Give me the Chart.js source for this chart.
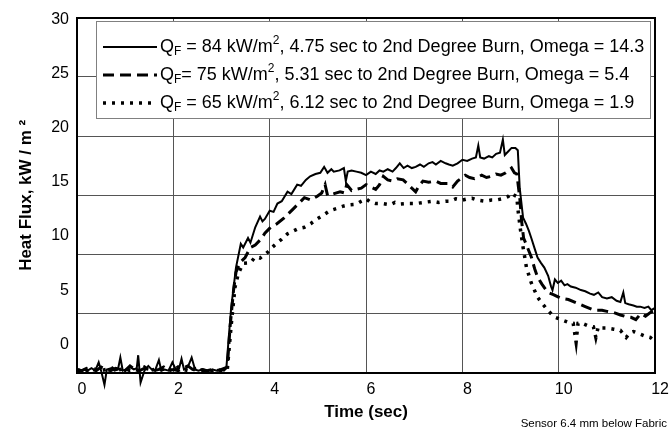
<!DOCTYPE html>
<html>
<head>
<meta charset="utf-8">
<script src="https://cdn.jsdelivr.net/npm/chart.js@4.4.1/dist/chart.umd.min.js"></script>
<style>
  body { margin: 0; background: #fff; }
  #wrap { width: 671px; height: 438px; }
</style>
</head>
<body>
<div id="wrap"><canvas id="heatFlux" width="671" height="438"></canvas></div>
<script>
var xTicks = [0, 2, 4, 6, 8, 10, 12];
var yTicks = [0, 5, 10, 15, 20, 25, 30];

// Q_F = 84 kW/m2 (solid)
var time84 = [0,0.08,0.15,0.22,0.3,0.38,0.45,0.5,0.57,0.62,0.7,0.78,0.85,0.9,0.95,1.02,1.1,1.18,1.24,1.27,
  1.32,1.4,1.48,1.55,1.62,1.7,1.75,1.82,1.9,1.98,2.05,2.12,2.17,2.22,2.3,2.38,2.45,2.52,2.6,2.68,
  2.75,2.82,2.9,2.97,3.05,3.1,
  3.15,3.2,3.3,3.4,3.45,3.55,3.6,3.7,3.8,3.85,3.9,4.0,4.08,4.16,4.25,4.37,4.45,4.57,4.65,4.75,
  4.84,4.95,5.05,5.13,5.2,5.28,5.33,5.45,5.54,5.58,5.62,5.7,5.8,5.9,6.0,6.1,6.2,6.28,6.36,6.45,
  6.55,6.62,6.7,6.78,6.86,6.95,7.03,7.12,7.2,7.3,7.38,7.45,7.55,7.65,7.72,7.8,7.9,8.0,8.1,8.2,
  8.28,8.33,8.37,8.45,8.55,8.62,8.7,8.78,8.84,8.88,8.95,9.02,9.1,9.15,9.19,9.26,9.32,9.38,9.43,9.5,
  9.56,9.63,9.7,9.78,9.84,9.87,9.92,9.98,10.05,10.12,10.18,10.25,10.35,10.46,10.55,10.65,10.73,10.82,10.9,11.0,
  11.1,11.2,11.28,11.34,11.38,11.45,11.55,11.62,11.69,11.78,11.86,11.92,12.0];
var flux84 = [0.2,0.1,0.3,0.2,0.4,0.2,0.9,0.2,-1.0,0.3,0.4,0.2,0.3,1.3,0.2,0.3,0.5,0.3,0.4,1.5,
  -0.8,0.2,0.6,0.3,0.2,1.1,0.2,0.3,0.2,0.9,0.3,0.4,1.2,0.3,0.5,1.3,0.3,0.2,0.3,0.1,
  0.2,0.3,0.2,0.3,0.2,0.4,
  3,5.5,8.9,10.9,10.6,11.4,11.0,12.3,13.2,12.8,13.0,13.7,13.6,14.3,14.5,15.3,15.1,15.9,15.8,16.3,
  16.6,16.8,16.9,17.4,16.9,17.2,17.0,17.1,17.3,16.2,17.0,17.1,17.0,16.9,16.7,17.0,16.8,17.1,17.0,17.2,
  17.0,17.3,17.7,17.3,17.5,17.3,17.4,17.6,17.4,17.7,17.8,17.6,17.9,17.7,17.6,17.5,17.7,18.0,17.9,18.1,
  18.2,19.2,18.2,18.1,18.3,18.2,18.5,18.6,19.7,18.4,18.7,19.0,19.0,18.8,15.6,13.1,12.6,12.0,11.4,10.5,
  9.75,9.3,8.9,8.2,7.3,7.0,7.9,7.6,7.8,7.4,7.5,7.3,7.2,7.0,6.9,6.7,6.6,6.8,6.4,6.3,
  6.4,6.1,6.0,6.8,5.9,5.8,5.7,5.6,5.6,5.5,5.6,5.3,5.5];

// Q_F = 75 kW/m2 (dashed)
var time75 = [0,0.1,0.2,0.3,0.4,0.5,0.6,0.7,0.8,0.9,1.0,1.1,1.2,1.3,1.4,1.5,1.6,1.7,1.8,1.9,
  2.0,2.1,2.2,2.3,2.4,2.5,2.6,2.7,2.8,2.9,3.0,3.12,
  3.18,3.25,3.3,3.38,3.49,3.6,3.7,3.82,3.9,4.02,4.15,4.3,4.4,4.5,4.6,4.72,4.85,4.98,5.08,5.15,
  5.2,5.3,5.46,5.55,5.6,5.7,5.8,5.9,6.0,6.1,6.2,6.28,6.36,6.45,6.56,6.65,6.77,6.85,6.95,7.03,
  7.1,7.18,7.3,7.45,7.55,7.7,7.8,7.9,8.06,8.15,8.25,8.4,8.5,8.6,8.7,8.8,8.9,9.02,9.08,9.13,
  9.19,9.23,9.27,9.35,9.43,9.5,9.56,9.65,9.77,9.9,10.05,10.2,10.38,10.55,10.73,10.9,11.0,11.14,11.28,11.4,
  11.5,11.6,11.7,11.8,11.9,11.96,12.0];
var flux75 = [0.3,0.2,0.4,0.3,0.2,0.5,0.3,0.2,0.4,0.3,0.2,0.6,0.3,0.2,0.4,0.3,0.2,0.3,0.5,0.2,
  0.3,0.2,0.4,0.6,0.3,0.2,0.3,0.2,0.3,0.2,0.3,0.5,
  4,7,8.5,9.3,9.75,10.6,10.8,11.3,11.8,12.3,12.6,13.1,13.5,13.9,14.3,14.8,14.6,14.9,15.2,15.9,
  15.0,15.1,15.3,15.2,15.9,15.4,15.5,15.6,15.9,15.7,15.5,15.9,16.6,16.3,16.2,16.4,16.3,16.0,15.6,15.3,
  15.8,16.2,16.1,16.2,16.0,16.0,15.7,16.2,16.7,16.5,16.4,16.7,16.5,16.6,16.8,16.7,16.9,17.3,16.9,16.8,
  14.8,12.8,11.4,10.6,9.8,8.8,8.1,7.5,6.8,6.6,6.3,6.2,5.9,5.6,5.3,5.3,5.2,5.1,4.9,4.75,
  4.7,4.5,5.0,4.8,5.1,5.2,5.0];

// Q_F = 65 kW/m2 (dotted)
var time65 = [0,0.1,0.2,0.3,0.4,0.5,0.6,0.7,0.8,0.9,1.0,1.1,1.2,1.3,1.4,1.5,1.6,1.7,1.8,1.9,
  2.0,2.1,2.2,2.3,2.4,2.5,2.6,2.7,2.8,2.9,3.0,3.12,
  3.2,3.28,3.35,3.45,3.6,3.7,3.8,3.96,4.05,4.16,4.25,4.37,4.5,4.6,4.72,4.85,4.98,5.1,5.25,5.4,
  5.54,5.65,5.8,5.9,6.0,6.1,6.2,6.36,6.5,6.6,6.7,6.85,7.03,7.2,7.38,7.5,7.65,7.75,7.86,8.0,
  8.1,8.2,8.3,8.47,8.6,8.7,8.82,8.95,9.02,9.08,9.13,9.15,9.2,9.26,9.33,9.43,9.56,9.67,9.77,9.9,
  10.05,10.18,10.3,10.36,10.4,10.46,10.6,10.72,10.77,10.82,10.87,11.0,11.14,11.28,11.4,11.48,11.55,11.68,11.8,11.9,
  11.96,12.0];
var flux65 = [0.2,0.3,0.2,0.4,0.3,0.2,0.3,0.5,0.2,0.3,0.4,0.2,0.3,0.2,0.5,0.2,0.3,0.4,0.2,0.3,
  0.2,0.5,0.3,0.2,0.3,0.4,0.2,0.3,0.2,0.3,0.2,0.3,
  4,7.25,8.4,9.25,9.3,9.8,9.7,10.2,10.6,11.0,11.3,11.75,12.0,12.2,12.3,12.6,13.0,13.3,13.7,13.9,
  14.1,14.2,14.25,14.5,14.7,14.4,14.3,14.3,14.2,14.4,14.25,14.3,14.3,14.4,14.5,14.4,14.5,14.5,14.7,14.6,
  14.7,14.75,14.6,14.5,14.6,14.6,14.7,14.9,15.2,15.0,14.9,13.9,12.25,10.6,8.9,7.6,6.4,5.8,5.3,4.75,
  4.5,4.3,4.2,2.6,4.2,4.25,4.0,3.9,3.0,3.9,3.8,3.8,3.7,3.6,3.0,3.4,3.5,3.3,3.1,3.0,
  2.8,2.9];

// legend text: _X = subscript, ^X = superscript
var seriesLabels = [
  'Q_F = 84 kW/m^2, 4.75 sec to 2nd Degree Burn, Omega = 14.3',
  'Q_F= 75 kW/m^2, 5.31 sec to 2nd Degree Burn, Omega = 5.4',
  'Q_F = 65 kW/m^2, 6.12 sec to 2nd Degree Burn, Omega = 1.9'
];

var fontFamily = "'Liberation Sans', Arial, sans-serif";

function zip(t, v) {
  return t.map(function (x, i) { return { x: x, y: v[i] }; });
}

function plainLabel(s) {
  return s.replace('_F', 'F').replace('^2', '\u00b2');
}

// draws text with _X subscripts and ^X superscripts
function drawRich(ctx, text, x, y) {
  var parts = text.split(/([_^].)/);
  parts.forEach(function (p) {
    if (!p) return;
    var dy = 0, size = 18;
    if (p[0] === '_') { p = p.slice(1); dy = 5; size = 12; }
    else if (p[0] === '^') { p = p.slice(1); dy = -6; size = 12; }
    ctx.font = size + 'px ' + fontFamily;
    ctx.fillText(p, x, y + dy);
    x += ctx.measureText(p).width;
  });
}

var legendBox = {
  id: 'legendBox',
  afterDatasetsDraw: function (chart) {
    var ctx = chart.ctx;
    var left = 96, top = 21, right = 650, bottom = 118;
    ctx.save();
    ctx.fillStyle = '#fff';
    ctx.fillRect(left, top, right - left, bottom - top);
    ctx.strokeStyle = '#808080';
    ctx.lineWidth = 1;
    ctx.strokeRect(left + 0.5, top + 0.5, right - left, bottom - top);
    chart.data.datasets.forEach(function (ds, i) {
      var y = top + 26 + i * 28;
      ctx.beginPath();
      ctx.setLineDash(ds.borderDash || []);
      ctx.lineWidth = ds.borderWidth;
      ctx.strokeStyle = ds.borderColor;
      ctx.moveTo(left + 7, y);
      ctx.lineTo(left + 61, y);
      ctx.stroke();
      ctx.setLineDash([]);
      ctx.fillStyle = '#000';
      ctx.textBaseline = 'middle';
      drawRich(ctx, seriesLabels[i], left + 64, y);
    });
    ctx.restore();
  }
};

var sensorNote = {
  id: 'sensorNote',
  afterDraw: function (chart) {
    var ctx = chart.ctx;
    ctx.save();
    ctx.fillStyle = '#000';
    ctx.font = '11.5px ' + fontFamily;
    ctx.textBaseline = 'middle';
    ctx.textAlign = 'right';
    ctx.fillText('Sensor 6.4 mm below Fabric', 667, 424);
    ctx.restore();
  }
};

var tickFont = { family: fontFamily, size: 16 };
var frame = { color: '#000', width: 2 };

new Chart(document.getElementById('heatFlux'), {
  type: 'line',
  data: {
    datasets: [
      {
        label: plainLabel(seriesLabels[0]),
        data: zip(time84, flux84),
        borderColor: '#000',
        borderWidth: 2,
        clip: false,
        xAxisID: 'x', yAxisID: 'y'
      },
      {
        label: plainLabel(seriesLabels[1]),
        data: zip(time75, flux75),
        borderColor: '#000',
        borderWidth: 3,
        borderDash: [11, 6],
        xAxisID: 'x', yAxisID: 'y'
      },
      {
        label: plainLabel(seriesLabels[2]),
        data: zip(time65, flux65),
        borderColor: '#000',
        borderWidth: 3.5,
        borderDash: [3, 6],
        xAxisID: 'x', yAxisID: 'y'
      }
    ]
  },
  options: {
    responsive: false,
    animation: false,
    layout: { padding: 0 },
    elements: { point: { radius: 0 }, line: { tension: 0 } },
    plugins: {
      legend: { display: false },
      tooltip: { enabled: false }
    },
    scales: {
      x: {
        type: 'linear', position: 'bottom', min: 0, max: 12,
        afterFit: function (s) { s.height = 65; },
        afterBuildTicks: function (s) { s.ticks = xTicks.map(function (v) { return { value: v }; }); },
        grid: { color: '#555', lineWidth: 1, drawTicks: false },
        border: frame,
        ticks: { color: '#000', font: tickFont, padding: 7, labelOffset: 5, maxRotation: 0, autoSkip: false },
        title: {
          display: true, text: 'Time (sec)', color: '#000',
          font: { family: fontFamily, size: 17, weight: 'bold' },
          padding: { top: 0, bottom: 15 }
        }
      },
      x2: {
        type: 'linear', position: 'top', min: 0, max: 12,
        afterFit: function (s) { s.height = 14; },
        grid: { display: false, drawTicks: false },
        ticks: { display: false },
        border: frame
      },
      y: {
        position: 'right', min: 0, max: 30,
        afterFit: function (s) { s.width = 9; },
        afterBuildTicks: function (s) { s.ticks = yTicks.map(function (v) { return { value: v }; }); },
        grid: { color: '#555', lineWidth: 1, drawTicks: false },
        ticks: { display: false },
        border: frame
      },
      y2: {
        position: 'left', min: -2.65, max: 30.18,
        afterFit: function (s) { s.width = 77; },
        afterBuildTicks: function (s) { s.ticks = yTicks.map(function (v) { return { value: v }; }); },
        grid: { display: false, drawTicks: false },
        ticks: { color: '#000', font: tickFont, padding: 8 },
        border: frame,
        title: {
          display: true, text: 'Heat Flux, kW / m \u00b2', color: '#000',
          font: { family: fontFamily, size: 17, weight: 'bold' },
          padding: { top: 16, bottom: 0 }
        }
      }
    }
  },
  plugins: [legendBox, sensorNote]
});
</script>
</body>
</html>
